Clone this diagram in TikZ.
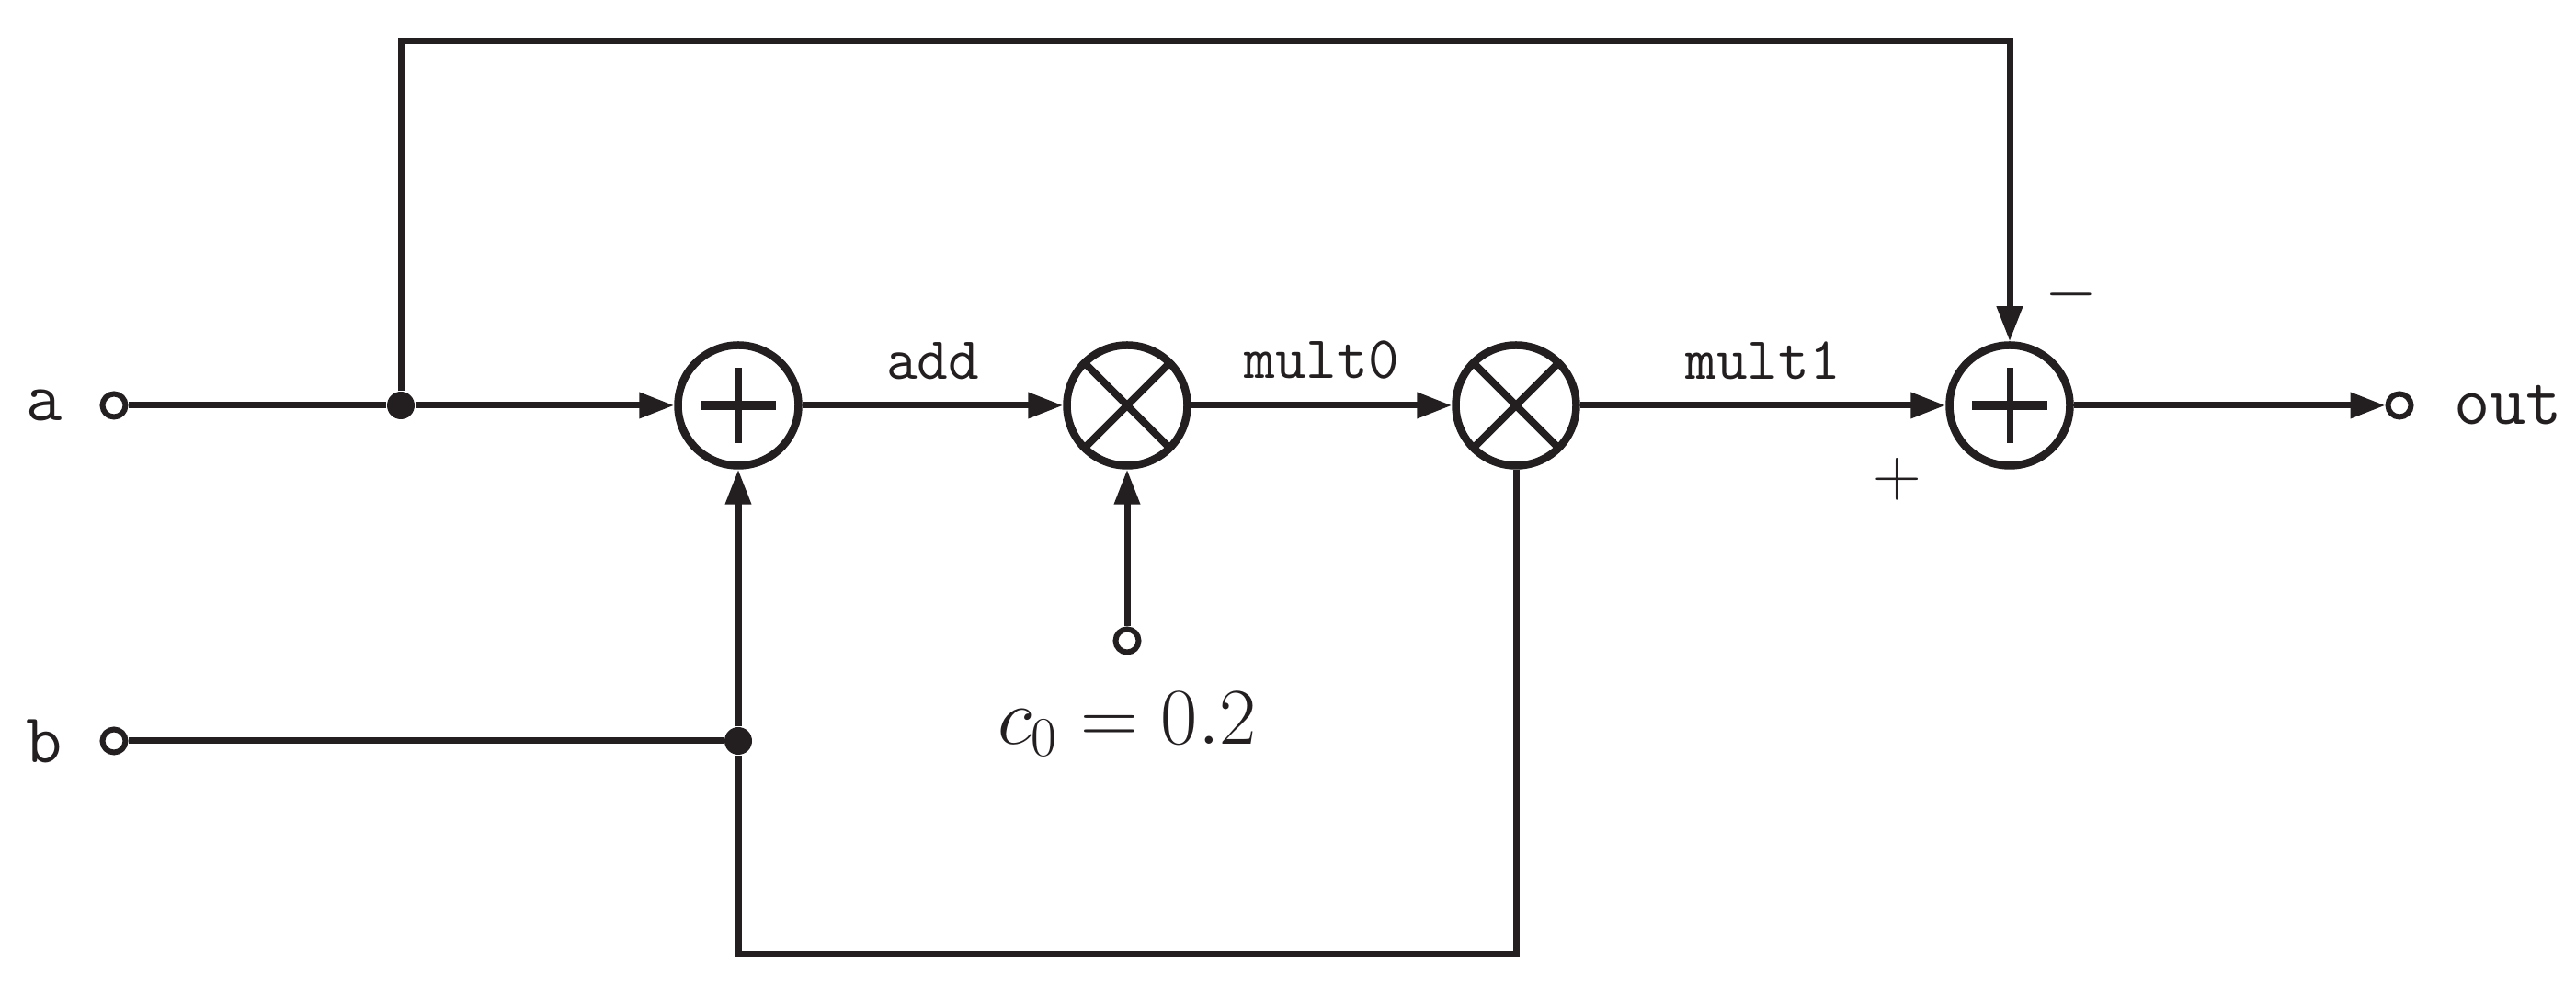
\documentclass[tikz,border=0pt]{standalone}
\usepackage{xcolor}
\definecolor{ink}{RGB}{35, 31, 32}
\usepackage{tikz}
\usetikzlibrary{arrows.meta, positioning}
\tikzstyle{wire} = [ink, line width=.07cm]
\tikzstyle{arrow} = [wire, -{Triangle[length=.38cm,width=.27cm]}]
\tikzstyle{term} = [circle, draw=ink, line width=.06cm, fill=white, minimum size=.25cm, inner sep=0pt]
\tikzstyle{dot} = [circle, fill=ink, minimum size=.3cm, inner sep=0pt]
\tikzstyle{adder} = [circle, draw=ink, line width=.085cm, minimum size=1.31cm, inner sep=0pt, path picture={
    \draw[ink, line width=.1cm] (path picture bounding box.center) +(-.41,0) -- +(.41,0);
    \draw[ink, line width=.07cm] (path picture bounding box.center) +(0,-.41) -- +(0,.41);}]
\tikzstyle{mult} = [circle, draw=ink, line width=.085cm, minimum size=1.31cm, inner sep=0pt, path picture={
    \draw[ink, line width=.08cm] (path picture bounding box.south west) -- (path picture bounding box.north east);
    \draw[ink, line width=.08cm] (path picture bounding box.north west) -- (path picture bounding box.south east);}]
\tikzstyle{port} = [ink, font=\fontsize{21.7}{26}\selectfont\ttfamily, inner sep=0pt]
\tikzstyle{sig} = [ink, font=\fontsize{18.6}{22}\selectfont\ttfamily, inner sep=.25cm]
\tikzstyle{sign} = [ink, font=\fontsize{22}{26}\selectfont, inner sep=0pt]

\begin{document}
\begin{tikzpicture}[on grid]
    \useasboundingbox (0,0) rectangle (28.02,-10.78);
    \node[term] (ta) at (1.24,-4.41) {};
    \node[dot, right=3.12 of ta] (ja) {};
    \node[adder, right=3.67 of ja] (add0) {};
    \node[mult, right=4.23 of add0] (mul0) {};
    \node[mult, right=4.23 of mul0] (mul1) {};
    \node[adder, right=5.37 of mul1] (add1) {};
    \node[term, right=4.24 of add1] (tout) {};
    \node[term, below=3.65 of ta] (tb) {};
    \node[dot, below=3.65 of add0] (jb) {};
    \node[term, below=2.56 of mul0] (tc) {};
    \coordinate[above=3.96 of ja] (ctop);
    \coordinate[below=2.32 of jb] (cbot);

    \node[port, left=.76 of ta] (la) {a};
    \node[port, left=.76 of tb] (lb) {b};
    \node[port, right=1.18 of tout] (lout) {out};
    \node[sign, font=\fontsize{25.5}{30}\selectfont, below=.91 of tc] (lc) {$c_0=0.2$};
    \node[sign, above right=1.21 and .67 of add1] (lminus) {$-$};
    \node[sign, below left=.8 and 1.22 of add1] (lplus) {$+$};

    \draw[wire] (ta) -- (ja);
    \draw[arrow] (ja) -- (add0);
    \draw[arrow] (ja) -- (ctop) -| (add1);
    \draw[wire] (tb) -- (jb);
    \draw[arrow] (jb) -- (add0);
    \draw[wire] (mul1) |- (cbot) -- (jb);
    \draw[arrow] (tc) -- (mul0);
    \draw[arrow] (add0) -- node[sig, above] (ladd) {add} (mul0);
    \draw[arrow] (mul0) -- node[sig, above] (lmul0) {mult0} (mul1);
    \draw[arrow] (mul1) -- node[sig, above] (lmul1) {mult1} (add1);
    \draw[arrow] (add1) -- (tout);
\end{tikzpicture}
\end{document}
